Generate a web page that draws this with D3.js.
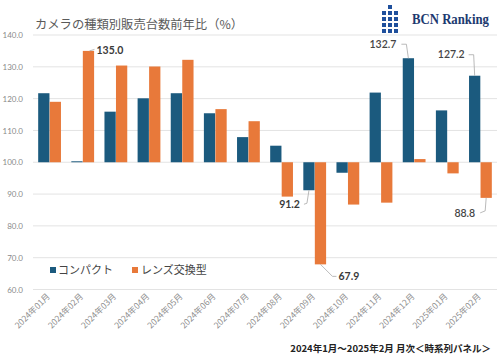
<!DOCTYPE html>
<html><head><meta charset="utf-8">
<script src="https://cdn.jsdelivr.net/npm/d3@7"></script>
<style>
html,body{margin:0;padding:0;background:#fff;}
svg{display:block;font-family:"Noto Sans CJK JP","Noto Sans",sans-serif;}
</style></head>
<body>
<svg id="c" width="501" height="360"></svg>
<script>
const categories = ["2024年01月","2024年02月","2024年03月","2024年04月","2024年05月","2024年06月","2024年07月","2024年08月","2024年09月","2024年10月","2024年11月","2024年12月","2025年01月","2025年02月"];
const compact = [121.7,100.3,115.9,120.1,121.7,115.4,107.9,105.2,91.2,96.7,121.9,132.7,116.3,127.2];
const lens = [119.0,135.0,130.4,130.1,132.2,116.7,112.9,89.2,67.9,86.7,87.3,101.0,96.5,88.8];
const seriesNames = ["コンパクト","レンズ交換型"];
const yTicks = [60,70,80,90,100,110,120,130,140];
const title = "カメラの種類別販売台数前年比（%）";
const footer = "2024年1月～2025年2月 月次＜時系列パネル＞";
// annotated points: series index, category index
const annotations = [
  {s:1,i:1},{s:0,i:11},{s:0,i:13},{s:0,i:8},{s:1,i:8},{s:1,i:13}
];

const colors = ["#1b5a7e","#e8793a"];
const svg = d3.select("#c");
const x = d3.scaleBand().domain(categories).range([33,497]).paddingInner(0).paddingOuter(0);
const xs = d3.scaleBand().domain([0,1]).range([0,x.bandwidth()]).paddingInner(0.02).paddingOuter(0.45);
const y = d3.scaleLinear().domain([60,140]).range([289.5,35]);

// grid
svg.append("g").selectAll("line").data(yTicks).join("line")
  .attr("x1",33).attr("x2",497).attr("y1",d=>y(d)).attr("y2",d=>y(d))
  .attr("stroke","#e3e3e3").attr("stroke-width",1);
// y axis labels
const yAxis = d3.axisLeft(y).tickValues(yTicks).tickFormat(d3.format(".1f")).tickSize(0).tickPadding(6);
const ga = svg.append("g").attr("transform","translate(29,0)").call(yAxis);
ga.select(".domain").remove();
ga.selectAll("text").attr("fill","#8a8a8a").style("font-size","8px").style("font-family","Lato,'Noto Sans',sans-serif");

// bars
const data = [compact,lens];
data.forEach((vals,s)=>{
  svg.append("g").selectAll("rect").data(vals).join("rect")
    .attr("x",(d,i)=>x(categories[i])+xs(s))
    .attr("width",xs.bandwidth())
    .attr("y",d=>y(Math.max(d,100)))
    .attr("height",d=>Math.abs(y(d)-y(100)))
    .attr("fill",colors[s]);
});

// x labels
const gx = svg.append("g");
categories.forEach((c,i)=>{
  const cx = x(c)+x.bandwidth()/2;
  gx.append("text").attr("transform",`translate(${cx+1},${297}) rotate(-45)`)
    .attr("text-anchor","end").attr("fill","#8f8f8f").style("font-size","8.5px").text(c);
});

// annotations
const ann = svg.append("g");
const annLayout = {
  "1-1":{dx:8,dy:-1,anchor:"start",bold:true,path:(bx,by)=>`M${bx+1},${by} L${bx+6},${by-1.5}`},
  "0-11":{dx:-12,dy:-14,anchor:"end",bold:false,path:(bx,by)=>`M${bx},${by} L${bx-2},${by-14} L${bx-7},${by-14}`},
  "0-13":{dx:-10,dy:-21,anchor:"end",bold:false,path:(bx,by)=>`M${bx},${by} L${bx-1},${by-21} L${bx-6},${by-21}`},
  "0-8":{dx:-9,dy:14,anchor:"end",bold:true,path:(bx,by)=>`M${bx},${by} L${bx-2},${by+13} L${bx-5},${by+14}`},
  "1-8":{dx:18,dy:12,anchor:"start",bold:true,path:(bx,by)=>`M${bx},${by} L${bx+12},${by+12} L${bx+16},${by+12}`},
  "1-13":{dx:-11,dy:15,anchor:"end",bold:false,path:(bx,by)=>`M${bx},${by} L${bx-1},${by+13} L${bx-6},${by+15}`}
};
annotations.forEach(a=>{
  const v = data[a.s][a.i];
  const bx = x(categories[a.i])+xs(a.s)+xs.bandwidth()/2;
  const by = y(v);
  const L = annLayout[a.s+"-"+a.i];
  ann.append("path").attr("d",L.path(bx,by)).attr("fill","none").attr("stroke","#a8a8a8").attr("stroke-width",0.8);
  ann.append("text").attr("x",bx+L.dx).attr("y",by+L.dy).attr("dy","0.35em")
    .attr("text-anchor",L.anchor).attr("fill",L.bold?"#3a3a3a":"#444")
    .style("font-size","10.5px").style("font-weight",L.bold?"700":"600")
    .style("font-family","Lato,'Noto Sans',sans-serif").text(d3.format(".1f")(v));
});

// title
svg.append("text").attr("x",35).attr("y",25).attr("dy","0.35em").attr("fill","#5a5a5a")
  .style("font-size","12.3px").style("font-weight","400").text(title);

// legend
const lg = svg.append("g").attr("transform","translate(50,270)");
lg.append("rect").attr("x",0).attr("y",-3).attr("width",6).attr("height",6).attr("fill",colors[0]);
lg.append("text").attr("x",8).attr("y",0).attr("dy","0.36em").attr("fill","#444").style("font-size","11px").text(seriesNames[0]);
lg.append("rect").attr("x",82).attr("y",-3).attr("width",6).attr("height",6).attr("fill",colors[1]);
lg.append("text").attr("x",91).attr("y",0).attr("dy","0.36em").attr("fill","#444").style("font-size","11px").text(seriesNames[1]);

// footer
svg.append("text").attr("x",491).attr("y",352).attr("text-anchor","end").attr("fill","#222")
  .style("font-size","9.5px").style("font-weight","700").text(footer);

// logo
const logo = svg.append("g").attr("fill","#1f4f9c");
const cells = [[1,0],[0,1],[1,1],[2,1],[0,2],[1,2],[2,2],[0,3],[1,3],[2,3],[0,4],[1,4],[2,4]];
cells.forEach(([cx,cy])=>{
  logo.append("rect").attr("x",382+cx*6).attr("y",5+cy*6).attr("width",4).attr("height",4);
});
svg.append("text").attr("x",412).attr("y",24).attr("fill","#1d3a70")
  .attr("textLength",77).attr("lengthAdjust","spacingAndGlyphs")
  .style("font-family","'Liberation Serif','DejaVu Serif',serif").style("font-size","14.5px").style("font-weight","700").text("BCN Ranking");
</script>
</body></html>
